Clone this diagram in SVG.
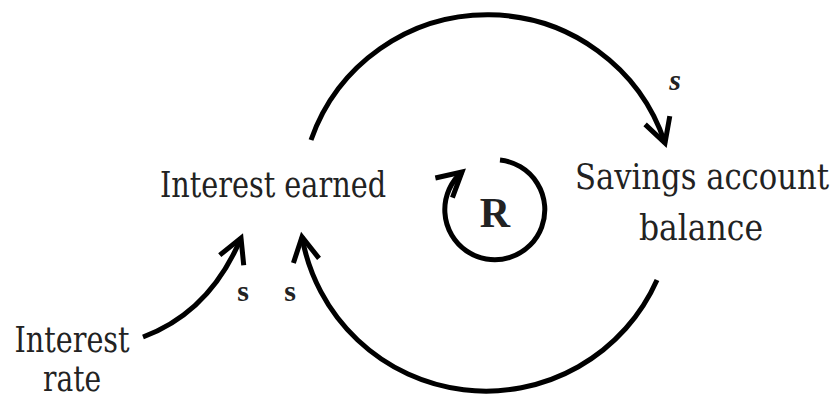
<svg xmlns="http://www.w3.org/2000/svg" width="836" height="400" viewBox="0 0 836 400">
<style>
.lbl{font-family:"DejaVu Serif Condensed","DejaVu Serif",serif;font-size:35px;fill:#222;text-anchor:middle}
.pol{font-family:"Liberation Serif","Times New Roman",serif;font-size:30px;font-weight:bold;fill:#222;text-anchor:middle}
.con{fill:none;stroke:#000;stroke-width:5;stroke-linecap:butt}
</style>
<defs>
<marker id="ah" markerUnits="userSpaceOnUse" viewBox="-30 -20 40 40" markerWidth="40" markerHeight="40" refX="0" refY="0" orient="auto" overflow="visible">
<path d="M-24,-13 L0,0 L-24,13" fill="none" stroke="#000" stroke-width="5" stroke-linejoin="miter"/>
</marker>
</defs>
<rect width="836" height="400" fill="#fff"/>
<g id="connectors">
<path class="con" d="M311,140 A187,187 0 0 1 665,143" marker-end="url(#ah)"/>
<path class="con" d="M657,280 A187,187 0 0 1 302,237" marker-end="url(#ah)"/>
<path class="con" d="M143,337 Q210,312 241,238" marker-end="url(#ah)"/>
<text class="pol" x="675" y="90" font-style="italic">s</text>
<text class="pol" x="243" y="301">s</text>
<text class="pol" x="290" y="301">s</text>
</g>
<g id="loop-R">
<path class="con" d="M500,160 A50,50 0 1 1 462,172" marker-end="url(#ah)"/>
<text x="495" y="227" font-family="Liberation Serif, serif" font-size="42" font-weight="bold" fill="#222" text-anchor="middle">R</text>
</g>
<g id="interest-earned">
<text class="lbl" x="273" y="197" textLength="226" lengthAdjust="spacingAndGlyphs">Interest earned</text>
</g>
<g id="savings-account-balance">
<text class="lbl" x="702" y="189" textLength="254" lengthAdjust="spacingAndGlyphs">Savings account</text>
<text class="lbl" x="701" y="240" textLength="124" lengthAdjust="spacingAndGlyphs">balance</text>
</g>
<g id="interest-rate">
<text class="lbl" x="72" y="352" textLength="115" lengthAdjust="spacingAndGlyphs">Interest</text>
<text class="lbl" x="72" y="391" textLength="58" lengthAdjust="spacingAndGlyphs">rate</text>
</g>
</svg>
